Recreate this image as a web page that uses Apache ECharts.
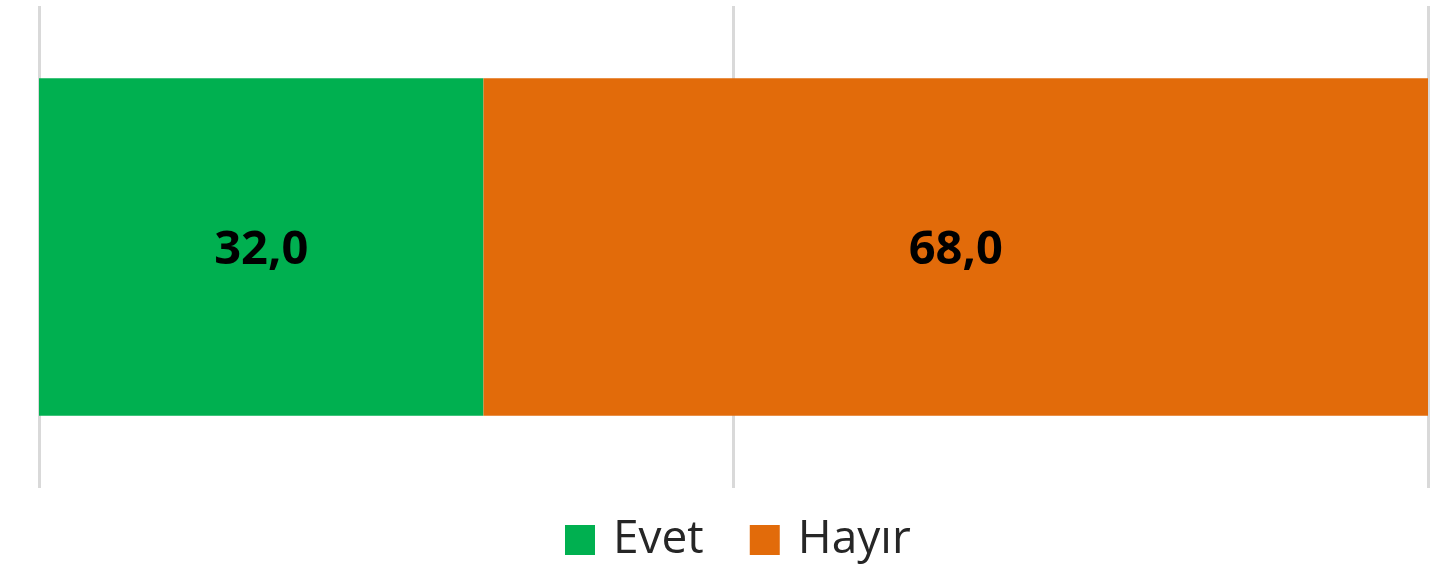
<!DOCTYPE html>
<html>
<head>
<meta charset="utf-8">
<script src="https://cdn.jsdelivr.net/npm/echarts@6/dist/echarts.min.js"></script>
<style>
  html, body { margin: 0; padding: 0; background: #fff; }
  #chart { width: 1440px; height: 571px; }
</style>
</head>
<body>
<div id="chart"></div>
<script>
// 数据
var categories = ["Soru"];
var seriesNames = ["Evet", "Hayır"];
var evetValues = [32.0];
var hayirValues = [68.0];
var colors = ["#00B050", "#E26B0A"];

var chart = echarts.init(document.getElementById("chart"));

function makeSeries(name, data, color) {
  return {
    name: name,
    type: "bar",
    stack: "total",
    barWidth: "70%",
    itemStyle: { color: color },
    label: {
      show: true,
      position: "inside",
      offset: [0, 4],
      formatter: function (p) {
        return p.value.toFixed(1).replace(".", ",");
      },
      fontFamily: "Open Sans",
      fontWeight: "bold",
      fontSize: 47,
      color: "#000"
    },
    silent: true,
    data: data
  };
}

chart.setOption({
  animation: false,
  grid: {
    left: 39,
    right: 12,
    top: 6,
    bottom: 83
  },
  legend: {
    bottom: 8,
    left: 565,
    padding: 0,
    itemWidth: 30,
    itemHeight: 30,
    itemGap: 46,
    icon: "rect",
    textStyle: {
      fontFamily: "Open Sans",
      fontSize: 46,
      color: "#262626",
      padding: [0, 0, 0, 13]
    },
    data: seriesNames
  },
  xAxis: {
    type: "value",
    min: 0,
    max: 100,
    interval: 50,
    axisLabel: { show: false },
    axisTick: { show: false },
    axisLine: { show: false },
    splitLine: {
      show: true,
      lineStyle: { color: "#D9D9D9", width: 3 }
    }
  },
  yAxis: {
    type: "category",
    data: categories,
    axisLabel: { show: false },
    axisTick: { show: false },
    axisLine: { show: false }
  },
  series: [
    makeSeries(seriesNames[0], evetValues, colors[0]),
    makeSeries(seriesNames[1], hayirValues, colors[1])
  ]
});
</script>
</body>
</html>
